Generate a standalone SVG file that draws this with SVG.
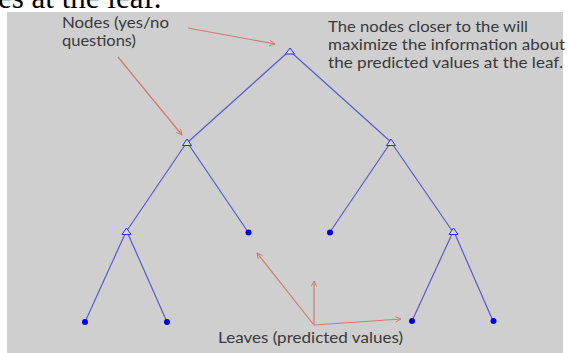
<svg xmlns="http://www.w3.org/2000/svg" width="568" height="353" viewBox="0 0 568 353">
<defs>
<style>
.lbl{font-family:Lato,"Liberation Sans",sans-serif;font-size:16px;fill:#3a3a3a}
.edge{stroke:#5a5ad0;stroke-width:1.2;fill:none}
.tri{fill:#d4d4e4;stroke:#3030d0;stroke-width:1}
.leaf{fill:#0000ee}
.ann{stroke:#d07a70;stroke-width:1.2;fill:none}
</style>
<marker id="ah" viewBox="0 0 10 10" refX="9" refY="5" markerWidth="7" markerHeight="7" orient="auto" markerUnits="userSpaceOnUse">
<path d="M1,1 L9,5 L1,9" fill="none" stroke="#d07a70" stroke-width="1.3"/>
</marker>
</defs>
<rect x="0" y="0" width="568" height="353" fill="#ffffff"/>
<text x="-2" y="7.5" font-family="'Liberation Serif',serif" font-size="31" fill="#000">es at the leaf.</text>
<rect x="7" y="12" width="556" height="345" fill="#cfcfcf"/>
<g id="connectors">
<line class="edge" x1="287" y1="53" x2="188" y2="142"/>
<line class="edge" x1="292" y1="53" x2="391" y2="142"/>
<line class="edge" x1="185" y1="145" x2="126" y2="232"/>
<line class="edge" x1="189" y1="145" x2="248" y2="232"/>
<line class="edge" x1="389" y1="145" x2="330" y2="232"/>
<line class="edge" x1="393" y1="145" x2="453" y2="232"/>
<line class="edge" x1="125" y1="234" x2="85" y2="322"/>
<line class="edge" x1="128" y1="234" x2="167" y2="322"/>
<line class="edge" x1="452" y1="234" x2="412" y2="321"/>
<line class="edge" x1="455" y1="234" x2="493" y2="321"/>
<line class="ann" x1="118" y1="57" x2="182" y2="135" marker-end="url(#ah)"/>
<line class="ann" x1="188" y1="28" x2="275" y2="44" marker-end="url(#ah)"/>
<line class="ann" x1="314" y1="325" x2="257" y2="253" marker-end="url(#ah)"/>
<line class="ann" x1="314" y1="325" x2="314" y2="281" marker-end="url(#ah)"/>
<line class="ann" x1="314" y1="325" x2="401" y2="319" marker-end="url(#ah)"/>
</g>
<g id="root"><path class="tri" d="M290,48 L294.5,54 L285.5,54 Z"/></g>
<g id="n-left"><path class="tri" d="M187,139 L191.5,145.5 L182.5,145.5 Z"/></g>
<g id="n-right"><path class="tri" d="M391,139 L395.5,145.5 L386.5,145.5 Z"/></g>
<g id="n-ll"><path class="tri" d="M126.5,228 L131,234.5 L122,234.5 Z"/></g>
<g id="n-rr"><path class="tri" d="M453.5,228 L458,234.5 L449,234.5 Z"/></g>
<g id="leaf1"><circle class="leaf" cx="85" cy="322" r="3"/></g>
<g id="leaf2"><circle class="leaf" cx="167" cy="322" r="3"/></g>
<g id="leaf3"><circle class="leaf" cx="248.5" cy="232.5" r="3"/></g>
<g id="leaf4"><circle class="leaf" cx="330" cy="232.5" r="3"/></g>
<g id="leaf5"><circle class="leaf" cx="412" cy="321" r="3"/></g>
<g id="leaf6"><circle class="leaf" cx="493.5" cy="321" r="3"/></g>
<g id="label-nodes">
<text class="lbl" x="62" y="28" textLength="107" lengthAdjust="spacingAndGlyphs">Nodes (yes/no</text>
<text class="lbl" x="62" y="46" textLength="74" lengthAdjust="spacingAndGlyphs">questions)</text>
</g>
<g id="label-top">
<text class="lbl" x="328" y="32" textLength="200" lengthAdjust="spacingAndGlyphs">The nodes closer to the will</text>
<text class="lbl" x="328" y="50" textLength="237" lengthAdjust="spacingAndGlyphs">maximize the information about</text>
<text class="lbl" x="328" y="68" textLength="235" lengthAdjust="spacingAndGlyphs">the predicted values at the leaf.</text>
</g>
<g id="label-leaves">
<text class="lbl" x="218" y="343" textLength="185" lengthAdjust="spacingAndGlyphs">Leaves (predicted values)</text>
</g>
</svg>
